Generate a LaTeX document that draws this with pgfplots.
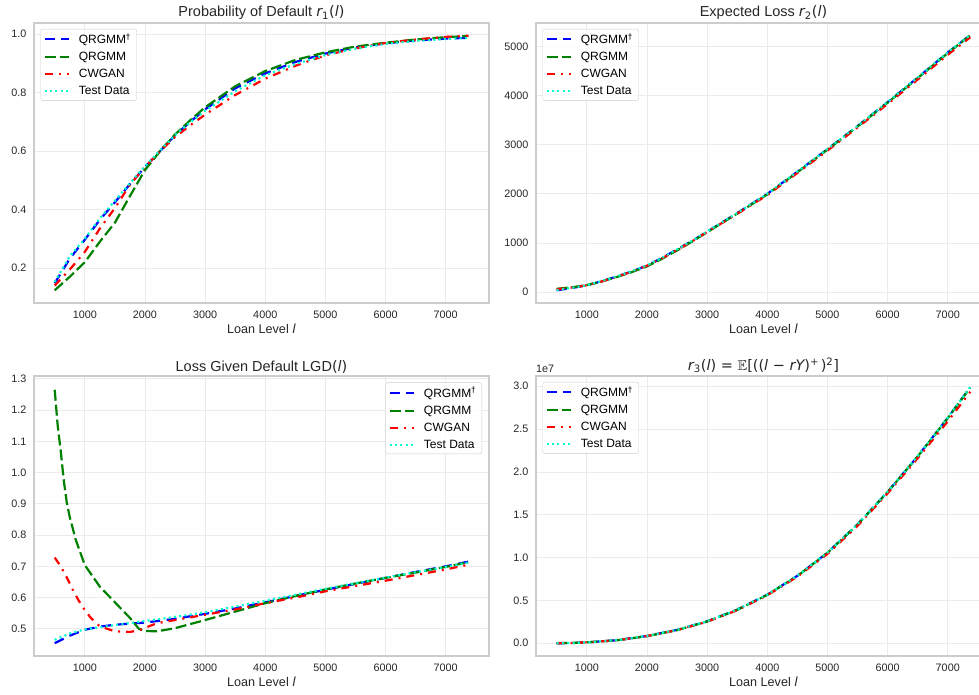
\documentclass[border=0pt]{standalone}
\usepackage{amssymb}
\usepackage{pgfplots}
\pgfplotsset{compat=1.18}
\usepackage{fontspec}
\setmainfont{Liberation Sans}
\newfontfamily\dv{DejaVu Sans}
\newcommand{\vi}[1]{{\dv\itshape #1}}
\definecolor{qblue}{RGB}{0,0,255}
\definecolor{qgreen}{RGB}{0,128,0}
\definecolor{qred}{RGB}{255,0,0}
\definecolor{qcyan}{RGB}{0,255,204}
\definecolor{gridc}{RGB}{235,235,235}
\definecolor{framec}{RGB}{204,204,204}
\definecolor{txt}{RGB}{38,38,38}
\pgfplotsset{
 myax/.style={
  scale only axis, width=455pt, height=280pt,
  xmin=156, xmax=7719,
  xtick={1000,2000,...,7000},
  clip mode=individual,
  grid=major, major grid style={gridc, line width=0.8pt},
  axis line style={framec, line width=1.25pt},
  tick style={draw=none},
  tick label style={font=\fontsize{10.8}{12}\selectfont, text=txt},
  xticklabel style={yshift=-4pt},
  yticklabel style={xshift=-4pt},
  /pgf/number format/assume math mode=true,
  /pgf/number format/1000 sep={},
  scaled ticks=false,
  xlabel={Loan Level \vi{l}},
  xlabel style={font=\fontsize{12.6}{14}\selectfont, text=txt, yshift=1pt},
  title style={font=\fontsize{14.5}{16}\selectfont, text=txt, yshift=-6.5pt},
  legend style={font=\fontsize{12}{14}\selectfont, draw=framec, rounded corners=2pt, fill=white, fill opacity=0.8, text opacity=1, inner xsep=3pt, inner ysep=2.2pt, row sep=3.2pt, nodes={inner xsep=3pt}},
  legend cell align=left,
  legend image code/.code={\draw[#1] (0pt,0pt) -- (24pt,0pt); \path (30pt,0pt);},
  every axis plot/.append style={line width=2.2pt},
 },
 sdag/.style={qblue, dash pattern=on 10pt off 6.5pt},
 sqr/.style={qgreen, dash pattern=on 11pt off 4pt},
 scw/.style={qred, dash pattern=on 8pt off 6pt on 2pt off 6pt},
 ste/.style={qcyan, dash pattern=on 2pt off 3.3pt},
 ul/.style={legend style={at={(0,1)}, anchor=north west, xshift=6.5pt, yshift=-6pt}},
 ur/.style={legend style={at={(1,1)}, anchor=north east, xshift=-7pt, yshift=-6.5pt}},
}
\newcommand{\dagl}{QRGMM\textsuperscript{\dv †}}
\begin{document}
\begin{tikzpicture}
\useasboundingbox (0,0) rectangle (979pt,695pt);
% ---------------- top left
\begin{axis}[myax, ul, at={(34pt,392pt)}, anchor=south west,
  ymin=0.0804, ymax=1.0386, ytick={0.2,0.4,0.6,0.8,1.0},
  yticklabel style={/pgf/number format/fixed, /pgf/number format/fixed zerofill, /pgf/number format/precision=1},
  title={Probability of Default \vi{r}\textsubscript{\dv 1}{\dv (\itshape l\upshape)}}]
\addplot[sdag] coordinates {(500,0.148) (750,0.232) (1000,0.297) (1250,0.365) (1500,0.425) (1750,0.487) (2000,0.545) (2250,0.600) (2500,0.654) (2750,0.700) (3000,0.743) (3500,0.815) (4000,0.866) (4500,0.905) (5000,0.934) (5500,0.955) (6000,0.969) (6500,0.979) (7000,0.985) (7375,0.988)};
\addlegendentry{\dagl}
\addplot[sqr] coordinates {(500,0.124) (750,0.170) (1000,0.220) (1250,0.290) (1500,0.355) (1750,0.446) (2000,0.535) (2250,0.600) (2500,0.657) (2750,0.705) (3000,0.750) (3500,0.822) (4000,0.874) (4500,0.912) (5000,0.938) (5500,0.958) (6000,0.971) (6500,0.982) (7000,0.990) (7375,0.994)};
\addlegendentry{QRGMM}
\addplot[scw] coordinates {(500,0.140) (750,0.195) (1000,0.255) (1250,0.335) (1500,0.405) (1750,0.485) (2000,0.545) (2250,0.600) (2500,0.648) (2750,0.688) (3000,0.725) (3500,0.792) (4000,0.848) (4500,0.892) (5000,0.928) (5500,0.952) (6000,0.970) (6500,0.982) (7000,0.991) (7375,0.995)};
\addlegendentry{CWGAN}
\addplot[ste] coordinates {(500,0.152) (750,0.240) (1000,0.300) (1250,0.370) (1500,0.430) (1750,0.490) (2000,0.548) (2250,0.602) (2500,0.655) (2750,0.698) (3000,0.738) (3500,0.805) (4000,0.860) (4500,0.898) (5000,0.929) (5500,0.951) (6000,0.967) (6500,0.977) (7000,0.984) (7375,0.987)};
\addlegendentry{Test Data}
\end{axis}
% ---------------- top right
\begin{axis}[myax, ul, at={(536pt,392pt)}, anchor=south west,
  ymin=-219, ymax=5476, ytick={0,1000,...,5000},
  title={Expected Loss \vi{r}\textsubscript{\dv 2}{\dv (\itshape l\upshape)}}]
\addplot[sdag] coordinates {(500,40) (750,85) (1000,140) (1250,225) (1500,320) (1750,425) (2000,540) (2250,700) (2500,870) (2750,1045) (3000,1230) (3500,1610) (4000,2000) (4500,2450) (5000,2910) (5500,3380) (6000,3865) (6500,4365) (7000,4875) (7375,5230)};
\addlegendentry{\dagl}
\addplot[sqr] coordinates {(500,70) (750,100) (1000,145) (1250,220) (1500,310) (1750,410) (2000,525) (2250,680) (2500,850) (2750,1030) (3000,1220) (3500,1600) (4000,1990) (4500,2440) (5000,2900) (5500,3370) (6000,3855) (6500,4355) (7000,4865) (7375,5225)};
\addlegendentry{QRGMM}
\addplot[scw] coordinates {(500,60) (750,95) (1000,140) (1250,220) (1500,315) (1750,420) (2000,540) (2250,690) (2500,860) (2750,1035) (3000,1225) (3500,1595) (4000,1975) (4500,2425) (5000,2880) (5500,3350) (6000,3830) (6500,4325) (7000,4830) (7375,5185)};
\addlegendentry{CWGAN}
\addplot[ste] coordinates {(500,42) (750,88) (1000,142) (1250,228) (1500,322) (1750,428) (2000,545) (2250,702) (2500,872) (2750,1048) (3000,1235) (3500,1612) (4000,2002) (4500,2452) (5000,2912) (5500,3382) (6000,3868) (6500,4368) (7000,4880) (7375,5235)};
\addlegendentry{Test Data}
\end{axis}
% ---------------- bottom left
\begin{axis}[myax, ur, at={(34pt,39pt)}, anchor=south west,
  ymin=0.413, ymax=1.309, ytick={0.5,0.6,...,1.3},
  yticklabel style={/pgf/number format/fixed, /pgf/number format/fixed zerofill, /pgf/number format/precision=1},
  title={Loss Given Default LGD{\dv (\itshape l\upshape)}}]
\addplot[sdag] coordinates {(500,0.454) (750,0.478) (1000,0.497) (1250,0.507) (1500,0.513) (2000,0.520) (2500,0.532) (3000,0.548) (3500,0.565) (4000,0.585) (4500,0.605) (5000,0.625) (5500,0.644) (6000,0.663) (6500,0.682) (7000,0.700) (7375,0.715)};
\addlegendentry{\dagl}
\addplot[sqr] coordinates {(500,1.265) (550,1.150) (600,1.070) (650,0.976) (700,0.905) (750,0.858) (850,0.785) (1000,0.704) (1250,0.635) (1500,0.585) (1750,0.535) (1900,0.500) (2000,0.493) (2200,0.492) (2500,0.502) (3000,0.528) (3500,0.555) (4000,0.582) (4500,0.605) (5000,0.626) (5500,0.645) (6000,0.663) (6500,0.680) (7000,0.698) (7375,0.713)};
\addlegendentry{QRGMM}
\addplot[scw] coordinates {(500,0.728) (600,0.700) (700,0.665) (800,0.625) (900,0.590) (1000,0.560) (1100,0.535) (1250,0.508) (1500,0.492) (1750,0.490) (1900,0.495) (2000,0.503) (2200,0.518) (2500,0.528) (3000,0.545) (3500,0.562) (4000,0.582) (4500,0.600) (5000,0.620) (5500,0.637) (6000,0.654) (6500,0.672) (7000,0.690) (7375,0.705)};
\addlegendentry{CWGAN}
\addplot[ste] coordinates {(500,0.465) (750,0.485) (1000,0.498) (1500,0.512) (2000,0.525) (2500,0.538) (3000,0.553) (3500,0.571) (4000,0.590) (4500,0.609) (5000,0.628) (5500,0.646) (6000,0.664) (6500,0.681) (7000,0.698) (7375,0.712)};
\addlegendentry{Test Data}
\end{axis}
% ---------------- bottom right
\begin{axis}[myax, ul, at={(536pt,39pt)}, anchor=south west,
  ymin=-0.1485, ymax=3.12, ytick={0,0.5,...,3.0},
  yticklabel style={/pgf/number format/fixed, /pgf/number format/fixed zerofill, /pgf/number format/precision=1},
  title={\vi{r}\textsubscript{\dv 3}{\dv (\itshape l\upshape) = }$\mathbb{E}${\dv [((\itshape l\upshape\ − \itshape rY\upshape)\textsuperscript{+\,})\textsuperscript{2}]}},
  after end axis/.code={\node[anchor=south west, inner sep=0pt, font=\fontsize{10.8}{12}\selectfont, text=txt] at (rel axis cs:0,1) [yshift=3pt] {1e7};}]
\addplot[sdag] coordinates {(500,0.000) (750,0.003) (1000,0.010) (1500,0.036) (2000,0.085) (2500,0.156) (3000,0.256) (3500,0.392) (4000,0.567) (4500,0.787) (5000,1.057) (5500,1.387) (6000,1.767) (6500,2.182) (7000,2.632) (7375,2.990)};
\addlegendentry{\dagl}
\addplot[sqr] coordinates {(500,0.002) (750,0.004) (1000,0.011) (1500,0.035) (2000,0.083) (2500,0.154) (3000,0.254) (3500,0.390) (4000,0.565) (4500,0.785) (5000,1.055) (5500,1.385) (6000,1.765) (6500,2.180) (7000,2.628) (7375,2.985)};
\addlegendentry{QRGMM}
\addplot[scw] coordinates {(500,0.001) (750,0.004) (1000,0.011) (1500,0.035) (2000,0.084) (2500,0.153) (3000,0.252) (3500,0.386) (4000,0.560) (4500,0.777) (5000,1.043) (5500,1.370) (6000,1.750) (6500,2.160) (7000,2.590) (7375,2.935)};
\addlegendentry{CWGAN}
\addplot[ste] coordinates {(500,0.000) (750,0.003) (1000,0.010) (1500,0.036) (2000,0.086) (2500,0.157) (3000,0.257) (3500,0.393) (4000,0.568) (4500,0.788) (5000,1.058) (5500,1.388) (6000,1.768) (6500,2.184) (7000,2.634) (7375,2.992)};
\addlegendentry{Test Data}
\end{axis}
\end{tikzpicture}
\end{document}
